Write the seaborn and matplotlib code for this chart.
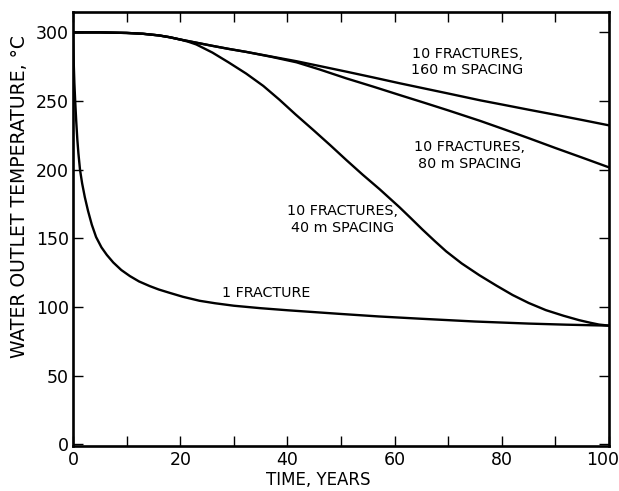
# Water outlet temperature vs time for different fracture setups
import numpy as np
import pandas as pd
import matplotlib
matplotlib.use("Agg")
import matplotlib.pyplot as plt
import matplotlib.transforms as mtransforms
import seaborn as sns

# 1 fracture
t_one = [0, 0.05, 0.15, 0.25, 0.4, 0.6, 0.8, 1.0, 1.3, 1.7, 2.2, 2.8, 3.5, 4.3, 5.3, 6.3, 7.5,
         9, 10.6, 12.3, 14.3, 16, 18, 20.5, 23.6, 26.5, 30, 35, 40, 50, 57, 65, 75, 85, 92, 100]
temp_one = [300, 290, 275, 263, 250, 235, 222, 212, 200, 190, 180, 170, 160, 151, 143.5, 138, 132.5,
            127, 122.6, 118.7, 115.3, 112.8, 110.4, 107.5, 104.6, 102.8, 101, 99.2, 97.7, 95, 93.2, 91.5, 89.5, 88, 87.2, 86.5]

# 10 fractures, 40 m spacing
t_40 = [0, 5, 10, 13, 16, 18, 20, 21.5, 23, 26, 29, 32.3, 35.5, 38.5, 41.5, 44.8, 48, 51, 54, 57.2, 60.9,
        63, 65.2, 67.5, 69.6, 72.5, 75.8, 79, 82, 85, 88.2, 91.5, 94.4, 96.5, 98.1, 100]
temp_40 = [300, 300, 299.6, 299, 297.8, 296.5, 294.8, 293.2, 291.2, 285.3, 278.2, 270, 261, 251, 240.3, 229,
           217.8, 207, 196.5, 185.8, 172.7, 164.8, 156.4, 148, 140.6, 131.8, 123.2, 115.6, 108.8, 103, 97.8, 93.7, 90.5, 88.6, 87.3, 86.5]

# 10 fractures, 80 m spacing
t_80 = [0, 5, 10, 13, 16, 18, 20, 23, 26, 29, 32.3, 37, 41.7, 46, 51, 56, 61, 65.5, 70, 76, 80, 85, 90, 95, 100]
temp_80 = [300, 300, 299.6, 299, 297.8, 296.5, 294.8, 292.5, 290.2, 288, 285.8, 282.2, 278.2, 273, 266.5, 260.5,
           254.3, 248.8, 243.2, 235.5, 230, 223, 215.8, 208.8, 201.7]

# 10 fractures, 160 m spacing
t_160 = [0, 5, 10, 13, 16, 18, 20, 23, 26, 29, 32.3, 37, 41.7, 46, 51, 56, 61, 65.5, 70, 76, 80, 85, 90, 95, 100]
temp_160 = [300, 300, 299.6, 299, 297.8, 296.5, 294.8, 292.5, 290.2, 288, 285.8, 282.4, 279, 275.5, 271.4, 267.2,
            262.9, 259.2, 255.5, 250.5, 247.5, 243.7, 240, 236.2, 232.3]

sns.set_style("ticks")
plt.rcParams["font.family"] = ["DejaVu Sans"]
plt.rcParams["text.color"] = "black"
plt.rcParams["axes.labelcolor"] = "black"

fig = plt.figure(figsize=(6.19, 4.91), dpi=100)
ax = fig.add_axes([0.118, 0.092, 0.866, 0.884])

for t, temp in [(t_one, temp_one), (t_40, temp_40), (t_80, temp_80), (t_160, temp_160)]:
    df = pd.DataFrame({"t": t, "temp": temp})
    sns.lineplot(data=df, x="t", y="temp", ax=ax, color="black", linewidth=1.7)

ax.set_xlim(0, 100)
ax.set_ylim(-1, 315)
ax.set_xticks(np.arange(0, 101, 20))
ax.set_xticks(np.arange(0, 101, 10), minor=True)
ax.set_yticks(np.arange(0, 301, 50))
ax.tick_params(axis="both", which="both", direction="in", top=True, right=True,
               length=7, width=1, labelsize=12.5, colors="black")
ax.tick_params(axis="y", which="both", labelright=False, pad=3)
ax.tick_params(axis="x", which="both", labeltop=False, pad=4)
for sp in ax.spines.values():
    sp.set_linewidth(1.9)
    sp.set_color("black")

# last x label sits a bit left so it stays inside the figure
last = ax.get_xticklabels()[-1]
last.set_horizontalalignment("right")
last.set_transform(last.get_transform() + mtransforms.ScaledTranslation(10 / 100, 0, fig.dpi_scale_trans))

ax.set_xlabel("TIME, YEARS", fontsize=12)
ax.xaxis.set_label_coords(0.457, -0.079, transform=ax.transAxes)
ax.xaxis.label.set_verticalalignment("center")
ax.set_ylabel("WATER OUTLET TEMPERATURE, °C", fontsize=13.5)
ax.yaxis.set_label_coords(-0.099, 0.574, transform=ax.transAxes)
ax.yaxis.label.set_verticalalignment("center")

# curve labels
ax.text(73.5, 278.5, "10 FRACTURES,\n160 m SPACING", fontsize=10.3, ha="center", va="center", linespacing=1.25)
ax.text(74, 210.4, "10 FRACTURES,\n80 m SPACING", fontsize=10.3, ha="center", va="center", linespacing=1.25)
ax.text(50.2, 163.8, "10 FRACTURES,\n40 m SPACING", fontsize=10.3, ha="center", va="center", linespacing=1.25)
ax.text(36, 110.5, "1 FRACTURE", fontsize=10.3, ha="center", va="center")

fig.savefig("out.png", dpi=100)
